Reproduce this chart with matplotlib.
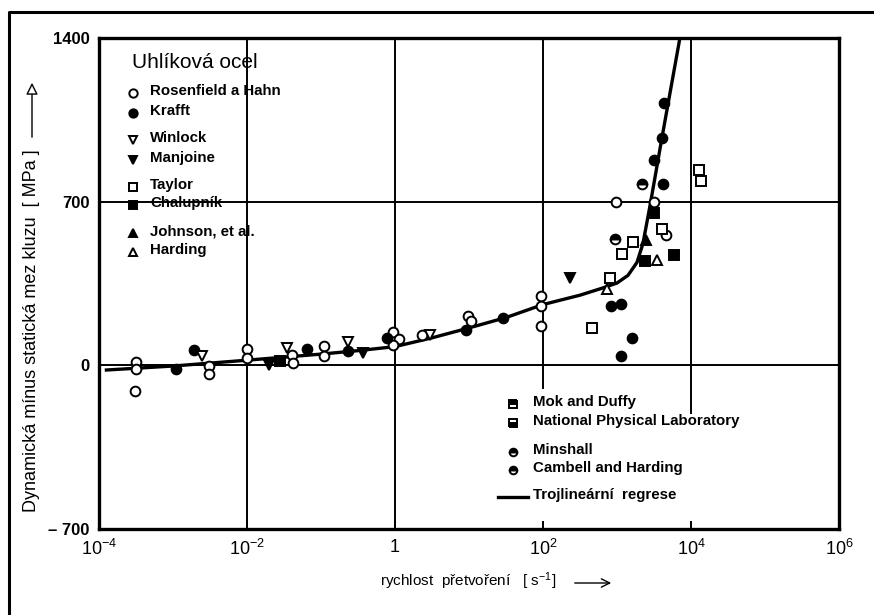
import numpy as np
import matplotlib.pyplot as plt
from matplotlib.lines import Line2D
from matplotlib.patches import FancyArrowPatch

plt.rcParams['font.family'] = ['Liberation Sans', 'DejaVu Sans']
plt.rcParams['mathtext.default'] = 'regular'

# ---- data (strain rate [1/s], stress difference [MPa]) ----
rosenfield_x = [3.2e-4, 3.2e-4, 3.1e-4, 3.1e-3, 3.1e-3, 1e-2, 1e-2, 4.0e-2, 4.2e-2,
                0.11, 0.11, 0.93, 1.12, 0.93, 2.3, 9.8, 10.5, 93, 93, 93, 980, 3200, 4600]
rosenfield_y = [13, -14, -111, -1, -37, 71, 32, 46, 10,
                84, 38, 141, 114, 86, 131, 210, 188, 295, 255, 170, 697, 699, 559]

krafft_x = [1.1e-3, 1.9e-3, 6.5e-2, 0.23, 0.79, 9.1, 29, 830, 1120, 1580, 1120,
            3200, 4100, 4300, 4200]
krafft_y = [-15, 67, 70, 60, 119, 150, 203, 252, 264, 117, 38, 880, 972, 1122, 776]

winlock_x = [2.5e-3, 3.5e-2, 0.23, 2.95]
winlock_y = [41, 74, 98, 128]

manjoine_x = [2.0e-2, 0.37, 234]
manjoine_y = [3, 53, 374]

taylor_x = [457, 810, 1175, 1620, 4070, 12900, 13800]
taylor_y = [160, 374, 478, 527, 583, 834, 787]

chalupnik_x = [2.8e-2, 2400, 3160, 5900]
chalupnik_y = [17, 448, 652, 473]

johnson_x = [2450]
johnson_y = [535]

harding_x = [740, 3470]
harding_y = [327, 452]

cambell_x = [2190, 930]
cambell_y = [776, 542]

# trilinear regression curve
curve_x = [1.26e-4, 1e-3, 1e-2, 0.1, 0.32, 1, 3.2, 10, 32, 100, 316, 630,
           1000, 1410, 1860, 2240, 2820, 3980, 7080]
curve_y = [-20, -3, 22, 48, 63, 80, 118, 160, 205, 260, 300, 330,
           352, 385, 440, 520, 690, 960, 1400]

x_ticks = [1e-4, 1e-2, 1, 1e2, 1e4, 1e6]
x_tick_labels = [r'$10^{-4}$', r'$10^{-2}$', '1', r'$10^{2}$', r'$10^{4}$', r'$10^{6}$']
y_ticks = [-700, 0, 700, 1400]
y_tick_labels = ['– 700', '0', '700', '1400']

W, H = 874, 615
fig = plt.figure(figsize=(W / 100, H / 100), dpi=100)
L, R, T, B = 99, 839, 38, 529
ax = fig.add_axes([L / W, 1 - B / H, (R - L) / W, (B - T) / H])


def axfrac(px, py):
    return (px - L) / (R - L), (B - py) / (B - T)


def figfrac(px, py):
    return px / W, 1 - py / H


# outer frame (only left and top visible)
fig.add_artist(Line2D([9 / W, 9 / W, 1.0], [0, 1 - 12 / H, 1 - 12 / H],
                      transform=fig.transFigure, color='black', lw=2.2))

ax.set_xscale('log')
ax.set_xlim(1e-4, 1e6)
ax.set_ylim(-700, 1400)
ax.minorticks_off()

# grid lines (10^2 and 10^4 are cut by the lower legend)
ax.axvline(1e-2, color='black', lw=1.4, zorder=1)
ax.axvline(1, color='black', lw=1.4, zorder=1)
ax.axvline(1e2, ymin=(529 - 388) / 491, color='black', lw=1.4, zorder=1)
ax.axvline(1e4, ymin=(529 - 413) / 491, color='black', lw=1.4, zorder=1)
ax.axhline(0, color='black', lw=1.4, zorder=1)
ax.axhline(700, color='black', lw=1.4, zorder=1)

ax.plot(curve_x, curve_y, color='black', lw=2.4, zorder=2)

ms = 7
mew = 1.4
styles = {
    'open_circle': dict(marker='o', mfc='white', mec='black'),
    'filled_circle': dict(marker='o', mfc='black', mec='black'),
    'open_down': dict(marker='v', mfc='white', mec='black'),
    'filled_down': dict(marker='v', mfc='black', mec='black'),
    'open_square': dict(marker='s', mfc='white', mec='black'),
    'filled_square': dict(marker='s', mfc='black', mec='black'),
    'filled_up': dict(marker='^', mfc='black', mec='black'),
    'open_up': dict(marker='^', mfc='white', mec='black'),
    'half_square_top': dict(marker='s', mfc='black', mfcalt='white', fillstyle='top', mec='black'),
    'half_square_bottom': dict(marker='s', mfc='black', mfcalt='white', fillstyle='bottom', mec='black'),
    'dot_circle': dict(marker='o', mfc='black', mfcalt='white', fillstyle='top', mec='black'),
    'half_circle': dict(marker='o', mfc='black', mfcalt='white', fillstyle='top', mec='black'),
}

data = [
    (rosenfield_x, rosenfield_y, 'open_circle'),
    (krafft_x, krafft_y, 'filled_circle'),
    (winlock_x, winlock_y, 'open_down'),
    (manjoine_x, manjoine_y, 'filled_down'),
    (taylor_x, taylor_y, 'open_square'),
    (chalupnik_x, chalupnik_y, 'filled_square'),
    (johnson_x, johnson_y, 'filled_up'),
    (harding_x, harding_y, 'open_up'),
    (cambell_x, cambell_y, 'half_circle'),
]
for xs, ys, st in data:
    ax.plot(xs, ys, ls='none', ms=ms, mew=mew, zorder=3, **styles[st])

# axes styling
for sp in ax.spines.values():
    sp.set_linewidth(2.4)
ax.set_xticks(x_ticks)
ax.set_xticklabels(x_tick_labels, fontsize=13)
ax.set_yticks(y_ticks)
ax.set_yticklabels(y_tick_labels, fontsize=12, fontweight='bold')
ax.tick_params(axis='x', direction='in', length=6, width=1.4, pad=7)
ax.tick_params(axis='y', length=0, pad=7)

# axis labels with arrows
tx, ty = figfrac(32, 512)
fig.text(tx, ty, 'Dynamická mínus statická mez kluzu  [ MPa ]', rotation=90,
         ha='center', va='bottom', fontsize=13)
fig.add_artist(FancyArrowPatch(
    figfrac(32, 140), figfrac(32, 80), transform=fig.transFigure,
    arrowstyle='-|>,head_length=7,head_width=3.5', color='black', fc='white', lw=1.0))

tx, ty = figfrac(380, 581)
fig.text(tx, ty, 'rychlost  přetvoření   [ s$^{-1}$]', ha='left', va='center', fontsize=11)
fig.add_artist(FancyArrowPatch(
    figfrac(572, 583), figfrac(614, 583), transform=fig.transFigure,
    arrowstyle='->,head_length=6,head_width=3', color='black', lw=1.0))

# upper legend
ax.text(*axfrac(132, 63), 'Uhlíková ocel', transform=ax.transAxes, ha='left',
        va='center', fontsize=15)
legend1 = [
    ('Rosenfield a Hahn', 'open_circle', 93),
    ('Krafft', 'filled_circle', 113),
    ('Winlock', 'open_down', 140),
    ('Manjoine', 'filled_down', 160),
    ('Taylor', 'open_square', 187),
    ('Chalupník', 'filled_square', 205),
    ('Johnson, et al.', 'filled_up', 233),
    ('Harding', 'open_up', 252),
]
for label, st, py in legend1:
    mx, my = axfrac(133, py)
    ax.plot([mx], [my], transform=ax.transAxes, clip_on=False, ls='none',
            ms=6, mew=1.4, **styles[st])
    ax.text(*axfrac(150, py - 2), label, transform=ax.transAxes, ha='left',
            va='center', fontsize=10.8, fontweight='bold')

# lower legend
legend2 = [
    ('Mok and Duffy', 'half_square_top', 404),
    ('National Physical Laboratory', 'half_square_bottom', 423),
    ('Minshall', 'dot_circle', 452),
    ('Cambell and Harding', 'half_circle', 470),
]
for label, st, py in legend2:
    mx, my = axfrac(513, py)
    ax.plot([mx], [my], transform=ax.transAxes, clip_on=False, ls='none',
            ms=5.5, mew=1.4, **styles[st])
    ax.text(*axfrac(533, py - 2), label, transform=ax.transAxes, ha='left',
            va='center', fontsize=10.8, fontweight='bold')
x0, y0 = axfrac(498, 497)
x1, _ = axfrac(528, 497)
ax.plot([x0, x1], [y0, y0], transform=ax.transAxes, color='black', lw=2.4)
ax.text(*axfrac(533, 495), 'Trojlineární  regrese', transform=ax.transAxes,
        ha='left', va='center', fontsize=10.8, fontweight='bold')

fig.savefig('out.png', dpi=100)
